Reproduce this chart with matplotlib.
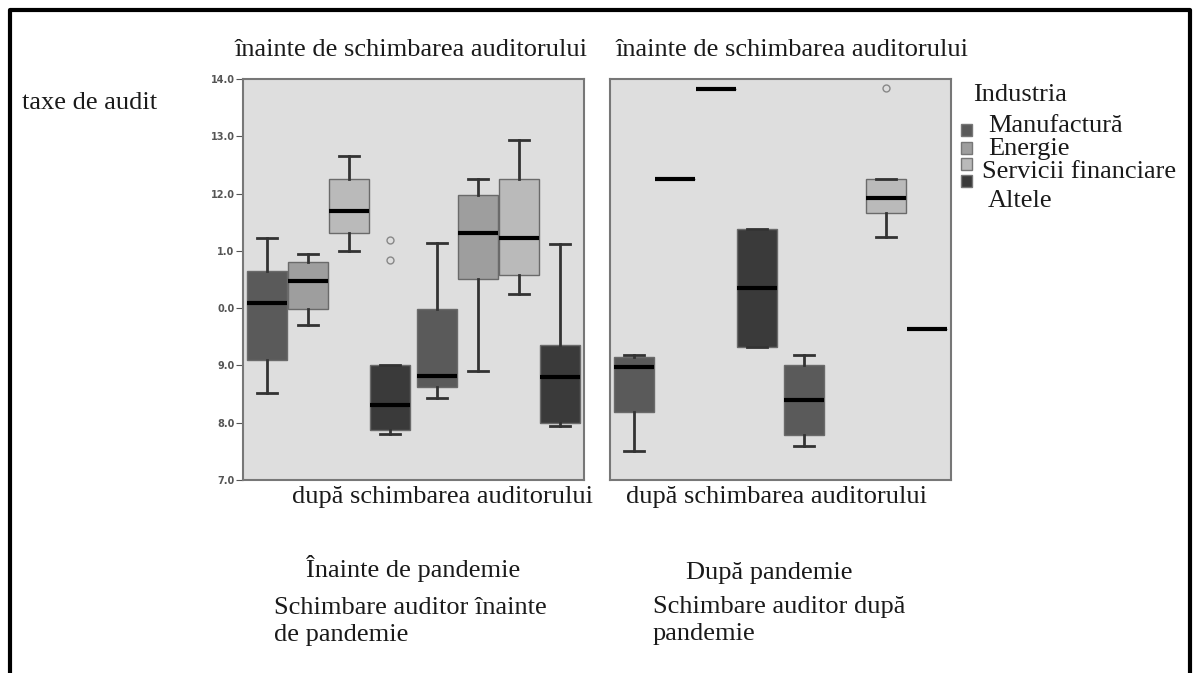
import numpy as np
import matplotlib.pyplot as plt
from matplotlib.patches import Rectangle

# industries and colours
industrii = ['Manufactură', 'Energie', 'Servicii financiare', 'Altele']
culori = ['#5a5a5a', '#9e9e9e', '#bababa', '#3a3a3a']

# y ticks as printed in the picture
yticks = [7.0, 8.0, 9.0, 10.0, 11.0, 12.0, 13.0, 14.0]
ytick_labels = ['7.0', '8.0', '9.0', '0.0', '1.0', '12.0', '13.0', '14.0']

# [whislo, q1, med, q3, whishi] per industry, group 0 = înainte, group 1 = după
inainte_manuf = [[8.52, 9.09, 10.09, 10.65, 11.22], [8.43, 8.63, 8.82, 9.99, 11.13]]
inainte_energ = [[9.71, 9.99, 10.48, 10.81, 10.94], [8.91, 10.51, 11.32, 11.97, 12.26]]
inainte_serv = [[11.00, 11.31, 11.69, 12.25, 12.66], [10.24, 10.57, 11.22, 12.25, 12.94]]
inainte_alte = [[7.81, 7.88, 8.31, 9.01, 9.01], [7.95, 8.00, 8.79, 9.35, 11.12]]
inainte_alte_outliers = [[11.19, 10.84], []]

dupa_manuf = [[7.51, 8.18, 8.97, 9.15, 9.18], [7.60, 7.78, 8.39, 9.00, 9.19]]
dupa_energ = [[12.26, 12.26, 12.26, 12.26, 12.26], None]
dupa_serv = [[13.82, 13.82, 13.82, 13.82, 13.82], [11.25, 11.66, 11.93, 12.26, 12.26]]
dupa_alte = [[9.32, 9.32, 10.35, 11.38, 11.38], [9.64, 9.64, 9.64, 9.64, 9.64]]
dupa_serv_outliers = [[], [13.85]]

panouri = [
    [inainte_manuf, inainte_energ, inainte_serv, inainte_alte],
    [dupa_manuf, dupa_energ, dupa_serv, dupa_alte],
]
outliers = [
    {3: inainte_alte_outliers},
    {2: dupa_serv_outliers},
]

plt.rcParams['font.family'] = ['Liberation Serif', 'DejaVu Serif']

fig = plt.figure(figsize=(12, 6.73), dpi=100)
W, H = 1200, 673


def ax_rect(x0, x1, y0, y1):
    return [x0 / W, 1 - y1 / H, (x1 - x0) / W, (y1 - y0) / H]


def text(x, y, s, **kw):
    fig.text(x / W, 1 - y / H, s, va='baseline', fontsize=19, color='#1a1a1a', **kw)


axes = [fig.add_axes(ax_rect(243, 584, 79, 480)),
        fig.add_axes(ax_rect(610, 951, 79, 480))]

offsets = [-0.36, -0.12, 0.12, 0.36]
latime = 0.235

for p, ax in enumerate(axes):
    ax.set_facecolor('#dedede')
    for i, serie in enumerate(panouri[p]):
        for g, st in enumerate(serie):
            if st is None:
                continue
            fl = outliers[p].get(i, [[], []])[g]
            stats = [dict(whislo=st[0], q1=st[1], med=st[2], q3=st[3],
                          whishi=st[4], fliers=fl)]
            ax.bxp(stats, positions=[g + offsets[i]], widths=latime,
                   patch_artist=True, showcaps=True,
                   boxprops=dict(facecolor=culori[i], edgecolor='#6a6a6a', linewidth=1),
                   medianprops=dict(color='black', linewidth=3),
                   whiskerprops=dict(color='#333333', linewidth=2),
                   capprops=dict(color='#333333', linewidth=2),
                   flierprops=dict(marker='o', markerfacecolor='none',
                                   markeredgecolor='#888888', markersize=5),
                   capwidths=latime * 0.5)
    ax.set_xlim(-0.5, 1.5)
    ax.set_ylim(7.0, 14.0)
    ax.set_xticks([])
    for s in ax.spines.values():
        s.set_color('#777777')
        s.set_linewidth(1.5)

axes[0].set_yticks(yticks)
axes[0].set_yticklabels(ytick_labels, family='DejaVu Sans', fontsize=7,
                        fontweight='bold', color='#555555')
axes[0].tick_params(axis='y', length=5, color='#555555', pad=1)
axes[1].set_yticks([])

# titles above / below panels
text(411, 56, 'înainte de schimbarea auditorului', ha='center')
text(792, 56, 'înainte de schimbarea auditorului', ha='center')
text(443, 503, 'după schimbarea auditorului', ha='center')
text(777, 503, 'după schimbarea auditorului', ha='center')
text(22, 109, 'taxe de audit', ha='left')

# legend
text(973, 101, 'Industria', ha='left')
leg_sq_y = [130, 148, 164, 181]
leg_txt = [(988, 132), (988, 155), (982, 178), (988, 207)]
for i, nume in enumerate(industrii):
    fig.add_artist(Rectangle((961 / W, 1 - (leg_sq_y[i] + 6) / H), 11 / W, 12 / H,
                             facecolor=culori[i], edgecolor='#777777', linewidth=1,
                             transform=fig.transFigure))
    text(leg_txt[i][0], leg_txt[i][1], nume, ha='left')

# bottom captions
text(306, 577, 'Înainte de pandemie', ha='left')
text(274, 614, 'Schimbare auditor înainte', ha='left')
text(274, 641, 'de pandemie', ha='left')
text(686, 579, 'După pandemie', ha='left')
text(653, 613, 'Schimbare auditor după', ha='left')
text(653, 640, 'pandemie', ha='left')

# outer frame (top, left, right)
fig.add_artist(plt.Line2D([10 / W, 10 / W, 1190 / W, 1190 / W], [0, 1 - 10 / H, 1 - 10 / H, 0],
                          color='black', linewidth=3, transform=fig.transFigure))

fig.savefig('out.png', dpi=100, facecolor='white')
